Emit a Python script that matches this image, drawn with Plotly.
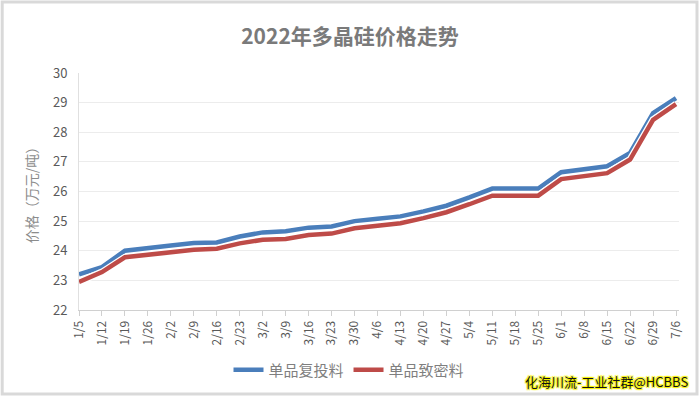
import plotly.graph_objects as go

dates = ["1/5", "1/12", "1/19", "1/26", "2/2", "2/9", "2/16", "2/23", "3/2", "3/9",
         "3/16", "3/23", "3/30", "4/6", "4/13", "4/20", "4/27", "5/4", "5/11", "5/18",
         "5/25", "6/1", "6/8", "6/15", "6/22", "6/29", "7/6"]
fu_tou = [23.2, 23.45, 24.0, 24.1, 24.18, 24.26, 24.28, 24.48, 24.62, 24.66,
          24.78, 24.82, 25.0, 25.08, 25.16, 25.33, 25.52, 25.8, 26.1, 26.1,
          26.1, 26.65, 26.75, 26.85, 27.3, 28.65, 29.15]
zhi_mi = [22.95, 23.28, 23.78, 23.87, 23.95, 24.03, 24.07, 24.25, 24.37, 24.40,
          24.53, 24.58, 24.76, 24.85, 24.93, 25.1, 25.3, 25.57, 25.86, 25.86,
          25.86, 26.42, 26.52, 26.62, 27.08, 28.42, 28.95]
names = ["单品复投料", "单品致密料"]
colors = ["#4a7ebb", "#be4b48"]
y_ticks = [22, 23, 24, 25, 26, 27, 28, 29, 30]

FONT = "Noto Sans CJK SC"
x_idx = list(range(len(dates)))

fig = go.Figure()
for vals, name, col in zip([fu_tou, zhi_mi], names, colors):
    fig.add_trace(go.Scatter(x=x_idx, y=vals, mode="lines", showlegend=False,
                             hoverinfo="skip",
                             line=dict(color="white", width=7)))
    fig.add_trace(go.Scatter(x=x_idx, y=vals, mode="lines", name=name,
                             line=dict(color=col, width=4.5)))

fig.update_layout(
    width=700, height=396,
    paper_bgcolor="white", plot_bgcolor="white",
    margin=dict(l=79, r=21, t=73, b=86, autoexpand=False),
    font=dict(family=FONT, color="#595959"),
    title=dict(text="<b>2022年多晶硅价格走势</b>", x=0.5, xanchor="center",
               y=0.907, yanchor="middle",
               font=dict(family=FONT, size=21, color="#7a7a7a")),
    xaxis=dict(
        range=[0, 26.13], automargin=False,
        tickmode="array", tickvals=x_idx, ticktext=dates,
        tickangle=-90, tickfont=dict(size=12, color="#595959", family=FONT),
        showgrid=False, zeroline=False,
        showline=True, linecolor="#d0d0d0", linewidth=1,
        ticks="outside", ticklen=5, tickcolor="#d0d0d0",
    ),
    yaxis=dict(
        range=[22, 30], tickvals=y_ticks, automargin=False,
        tickfont=dict(size=13, color="#595959", family=FONT),
        showgrid=True, gridcolor="#ececec", gridwidth=1,
        zeroline=False, showline=True, linecolor="#e0e0e0", linewidth=1,
        ticks="", ticklabelstandoff=8,
        title=dict(text="价格（万元/吨）", standoff=12,
                   font=dict(size=14, color="#8c8c8c", family=FONT)),
    ),
    legend=dict(orientation="h", x=0.45, xanchor="center", y=-0.253, yanchor="middle",
                font=dict(size=15, color="#7f7f7f", family=FONT),
                itemwidth=30, tracegroupgap=0, bgcolor="rgba(0,0,0,0)"),
    shapes=[dict(type="rect", xref="paper", yref="paper", x0=-0.128, x1=1.03,
                 y0=-0.354, y1=1.30, line=dict(color="#d9d9d9", width=3))],
    annotations=[dict(text="化海川流-工业社群@HCBBS", xref="paper", yref="paper",
                      x=1.018, y=-0.30, xanchor="right", yanchor="middle",
                      showarrow=False,
                      font=dict(size=13, color="#111111", family=FONT,
                                shadow="1px 1px 1px #f5f000, -1px -1px 1px #f5f000, 1px -1px 1px #f5f000, -1px 1px 1px #f5f000"))],
)

fig.write_html("out.html", config={"displayModeBar": False},
               post_script="document.body.style.margin='0';document.body.style.padding='0';")
